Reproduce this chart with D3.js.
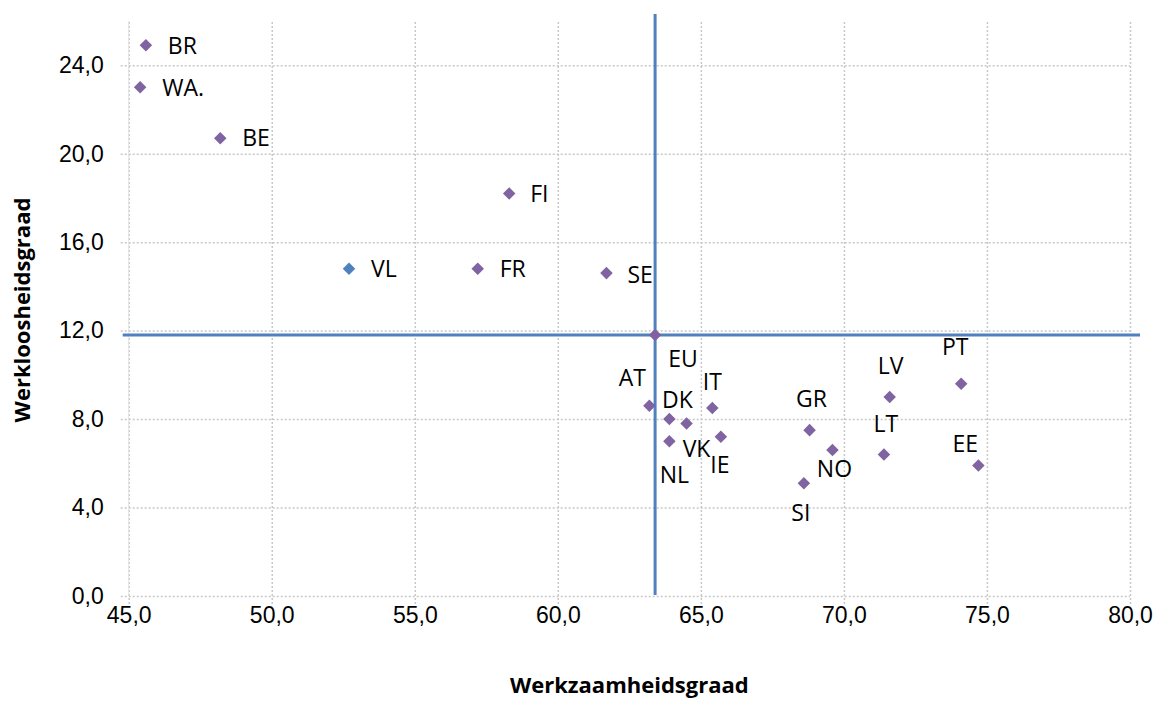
<!DOCTYPE html>
<html>
<head>
<meta charset="utf-8">
<script src="https://cdn.jsdelivr.net/npm/d3@7"></script>
<style>
	body { margin: 0; background: #fff; }
	svg { font-family: "Open Sans", "Noto Sans", sans-serif; }
	.tick text { fill: #000; }
</style>
</head>
<body>
<svg id="chart" width="1158" height="702"></svg>
<script>
// landen / regio's
const labels = ["BR", "WA.", "BE", "FI", "VL", "FR", "SE", "EU", "AT", "DK", "VK", "NL", "IT", "IE", "GR", "NO", "SI", "LT", "LV", "PT", "EE"];
// werkzaamheidsgraad (x)
const employment = [45.6, 45.4, 48.2, 58.3, 52.7, 57.2, 61.7, 63.4, 63.2, 63.9, 64.5, 63.9, 65.4, 65.7, 68.8, 69.6, 68.6, 71.4, 71.6, 74.1, 74.7];
// werkloosheidsgraad (y)
const unemployment = [24.9, 23.0, 20.7, 18.2, 14.8, 14.8, 14.6, 11.8, 8.6, 8.0, 7.8, 7.0, 8.5, 7.2, 7.5, 6.6, 5.1, 6.4, 9.0, 9.6, 5.9];
const highlight = ["VL"];
const xTicks = [45, 50, 55, 60, 65, 70, 75, 80];
const yTicks = [0, 4, 8, 12, 16, 20, 24];

// label plaatsing t.o.v. het punt: [dx, dy, anchor]
const labelPos = {
	"BR": [22, 0, "start"], "WA.": [22, 0, "start"], "BE": [22, 0, "start"],
	"FI": [21, 0, "start"], "VL": [22, 0, "start"], "FR": [22, 0, "start"],
	"SE": [21, 2, "start"], "EU": [28, 24, "middle"], "AT": [-17, -28, "middle"],
	"DK": [8, -19, "middle"], "VK": [10, 25, "middle"], "NL": [5, 34, "middle"],
	"IT": [0, -26, "middle"], "IE": [-1, 28, "middle"], "GR": [2, -31, "middle"],
	"NO": [2, 19, "middle"], "SI": [-3, 30, "middle"], "LT": [2, -31, "middle"],
	"LV": [1, -31, "middle"], "PT": [-6, -37, "middle"], "EE": [-13, -22, "middle"]
};

const purple = "#8064A2";
const blue = "#4F81BD";
const fmt = v => d3.format(".1f")(v).replace(".", ",");

const svg = d3.select("#chart");
const x = d3.scaleLinear().domain([45, 80]).range([128.7, 1130]);
const y = d3.scaleLinear().domain([0, 26]).range([596, 21]);

// rasterlijnen + assen
const gx = svg.append("g")
	.attr("transform", `translate(0,${y(0)})`)
	.call(d3.axisBottom(x).tickValues(xTicks).tickFormat(fmt)
		.tickSize(-(y(0) - y(26))).tickPadding(14));
gx.selectAll(".tick line")
	.attr("y2", -(y(0) - y(26)))
	.attr("y1", 8)
	.attr("stroke", "#c8c8c8")
	.attr("stroke-width", 1.5)
	.attr("stroke-dasharray", "2,2");
gx.selectAll(".tick text").attr("font-size", 23).attr("dy", "0.55em");
gx.select(".domain").remove();

const gy = svg.append("g")
	.attr("transform", `translate(${x(45)},0)`)
	.call(d3.axisLeft(y).tickValues(yTicks).tickFormat(fmt)
		.tickSize(-(x(80) - x(45))).tickPadding(25));
gy.selectAll(".tick line")
	.attr("x1", -8)
	.attr("stroke", "#c8c8c8")
	.attr("stroke-width", 1.5)
	.attr("stroke-dasharray", "2,2");
gy.selectAll(".tick text").attr("font-size", 23);
gy.select(".domain").remove();

// linker as
svg.append("line")
	.attr("x1", x(45)).attr("x2", x(45))
	.attr("y1", y(26)).attr("y2", y(0))
	.attr("stroke", "#e6e6e6")
	.attr("stroke-width", 1);

// kruislijnen door EU
const iEU = labels.indexOf("EU");
const euX = employment[iEU], euY = unemployment[iEU];
svg.append("line")
	.attr("x1", x.range()[0] - 6).attr("x2", x.range()[1] + 10)
	.attr("y1", y(euY)).attr("y2", y(euY))
	.attr("stroke", blue).attr("stroke-width", 3);
svg.append("line")
	.attr("x1", x(euX)).attr("x2", x(euX))
	.attr("y1", y.range()[1] - 7).attr("y2", y.range()[0] - 1)
	.attr("stroke", blue).attr("stroke-width", 3);

// punten
const pts = labels.map((l, i) => ({ label: l, x: employment[i], y: unemployment[i] }));
svg.append("g").selectAll("path")
	.data(pts)
	.join("path")
	.attr("d", d3.symbol().type(d3.symbolDiamond2).size(100))
	.attr("transform", d => `translate(${x(d.x)},${y(d.y)})`)
	.attr("fill", d => highlight.includes(d.label) ? blue : purple);

svg.append("g").selectAll("text")
	.data(pts)
	.join("text")
	.attr("x", d => x(d.x) + labelPos[d.label][0])
	.attr("y", d => y(d.y) + labelPos[d.label][1])
	.attr("dy", "0.36em")
	.attr("text-anchor", d => labelPos[d.label][2])
	.attr("font-size", 23)
	.attr("fill", "#000")
	.text(d => d.label);

// as-titels
svg.append("text")
	.attr("x", (x(45) + x(80)) / 2)
	.attr("y", 685)
	.attr("dy", "0.36em")
	.attr("text-anchor", "middle")
	.attr("font-size", 22)
	.attr("font-weight", "bold")
	.text("Werkzaamheidsgraad");

svg.append("text")
	.attr("transform", "translate(22,310) rotate(-90)")
	.attr("dy", "0.36em")
	.attr("text-anchor", "middle")
	.attr("font-size", 22)
	.attr("font-weight", "bold")
	.text("Werkloosheidsgraad");
</script>
</body>
</html>
